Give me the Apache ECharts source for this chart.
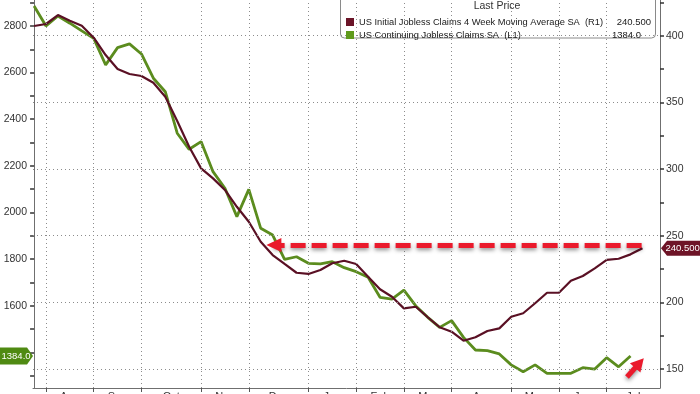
<!DOCTYPE html>
<html><head><meta charset="utf-8">
<script src="https://cdn.jsdelivr.net/npm/echarts@6/dist/echarts.min.js"></script>
<style>html,body{margin:0;padding:0;background:#fff}#c{width:700px;height:394px}</style>
</head><body><div id="c"></div>
<script>
// Weekly dates (week ending)
const weeks = ['2021-07-31','2021-08-07','2021-08-14','2021-08-21','2021-08-28','2021-09-04','2021-09-11','2021-09-18','2021-09-25','2021-10-02','2021-10-09','2021-10-16','2021-10-23','2021-10-30','2021-11-06','2021-11-13','2021-11-20','2021-11-27','2021-12-04','2021-12-11','2021-12-18','2021-12-25','2022-01-01','2022-01-08','2022-01-15','2022-01-22','2022-01-29','2022-02-05','2022-02-12','2022-02-19','2022-02-26','2022-03-05','2022-03-12','2022-03-19','2022-03-26','2022-04-02','2022-04-09','2022-04-16','2022-04-23','2022-04-30','2022-05-07','2022-05-14','2022-05-21','2022-05-28','2022-06-04','2022-06-11','2022-06-18','2022-06-25','2022-07-02','2022-07-09','2022-07-16','2022-07-23'];
// US Initial Jobless Claims 4 Week Moving Average SA (thousands, right axis)
const initialClaims4wk = [407.3,408.8,415.5,411.2,407.5,398.5,385.5,375.0,371.3,369.8,364.7,354.2,336.0,316.7,300.5,293.0,284.3,271.7,260.5,245.5,235.5,228.8,222.2,221.3,224.3,229.3,231.2,228.8,219.2,209.8,204.2,195.5,196.7,188.8,181.3,178.0,171.2,173.8,178.5,180.5,189.2,191.8,199.3,207.2,207.2,216.2,219.8,225.5,231.8,232.7,236.0,240.5];
// US Continuing Jobless Claims SA (thousands, left axis)
const continuingClaims = [2886,2800,2843,2812,2779,2747,2633,2707,2723,2680,2576,2518,2340,2271,2304,2175,2104,1982,2099,1932,1903,1799,1810,1782,1779,1789,1763,1746,1722,1636,1628,1667,1599,1550,1507,1536,1464,1410,1407,1393,1346,1317,1346,1310,1310,1310,1334,1328,1377,1338,1384];
const leftLabels = [1600,1800,2000,2200,2400,2600,2800];
const leftTicks = [1300,1400,1500,1600,1700,1800,1900,2000,2100,2200,2300,2400,2500,2600,2700,2800,2900];
const rightLabels = [150,200,250,300,350,400];
const rightTicks = [150,175,200,225,250,275,300,325,350,375,400,425];
const monthNames = ['Aug','Sep','Oct','Nov','Dec','Jan','Feb','Mar','Apr','May','Jun','Jul'];
const monthStartIdx = [1,5,9,14,18,23,27,31,35,40,44,48];
const lastInitial = '240.500';
const lastContinuing = '1384.0';
const nameInit = 'US Initial Jobless Claims 4 Week Moving Average SA  (R1)';
const nameCont = 'US Continuing Jobless Claims SA  (L1)';

const X_MIN = -0.09, X_MAX = 52.47;
const monthMid = monthStartIdx.map((s, k) => (s + (k < monthStartIdx.length - 1 ? monthStartIdx[k + 1] : X_MAX)) / 2);

const MAROON = '#5a1024';
const GREEN = '#5b8c1e';
const RED = '#ea1a2c';
const FONT = 'Liberation Sans';

const chart = echarts.init(document.getElementById('c'));
const option = {
  animation: false,
  backgroundColor: '#fff',
  grid: { left: 33, right: 40, top: 0, bottom: 6, containLabel: false, outerBoundsMode: 'none' },
  legend: {
    orient: 'vertical', left: 341, top: 11, itemWidth: 8, itemHeight: 8, itemGap: 1,
    icon: 'rect', z: 10, selectedMode: false,
    data: [{ name: nameInit, itemStyle: { color: '#6b1428' } }, { name: nameCont, itemStyle: { color: '#5f9a1c' } }],
    textStyle: {
      fontSize: 9.3, color: '#1a1a1a', fontFamily: FONT, lineHeight: 12,
      rich: { n: { width: 250, fontSize: 9.3, fontFamily: FONT, color: '#1a1a1a' }, v: { width: 42, align: 'right', fontSize: 9.5, fontFamily: FONT, color: '#1a1a1a' }, w: { width: 32, align: 'right', fontSize: 9.5, fontFamily: FONT, color: '#1a1a1a' } }
    },
    formatter: n => n === nameInit ? '{n|' + n + '}{v|' + lastInitial + '}' : '{n|' + n + '}{w|' + lastContinuing + '}'
  },
  xAxis: {
    type: 'value', min: X_MIN, max: X_MAX,
    axisLine: { show: true, onZero: false, lineStyle: { color: '#6f6f6f', width: 1 } },
    axisTick: { show: true, customValues: monthStartIdx, length: 4, lineStyle: { color: '#555' } },
    axisLabel: { customValues: monthMid, margin: 3, fontSize: 11, color: '#333', fontFamily: FONT,
      formatter: v => { const k = monthMid.findIndex(m => Math.abs(m - v) < 1e-6); return k >= 0 ? monthNames[k] : ''; } },
    splitLine: { show: false }
  },
  yAxis: [
    { type: 'value', position: 'left', min: 1246.9, max: 2911.5,
      axisLine: { show: true, lineStyle: { color: '#6f6f6f' } },
      axisTick: { show: true, customValues: leftTicks, length: 4, lineStyle: { color: '#333', width: 1.5 } },
      axisLabel: { customValues: leftLabels, margin: 6, fontSize: 10.5, color: '#333', fontFamily: FONT, formatter: v => String(v) },
      splitLine: { show: false } },
    { type: 'value', position: 'right', min: 135.75, max: 426.8,
      axisLine: { show: true, lineStyle: { color: '#6f6f6f' } },
      axisTick: { show: true, customValues: rightTicks, length: 4, lineStyle: { color: '#333', width: 1.5 } },
      axisLabel: { customValues: rightLabels, margin: 6, fontSize: 10.5, color: '#333', fontFamily: FONT, formatter: v => String(v) },
      splitLine: { show: false } }
  ],
  series: [
    { name: 'grid', type: 'line', yAxisIndex: 1, data: [], z: 1, silent: true,
      markLine: { silent: true, symbol: 'none', animation: false, label: { show: false },
        lineStyle: { color: '#8c8c8c', type: [1, 3], width: 1 },
        emphasis: { disabled: true },
        data: monthStartIdx.map(v => ({ xAxis: v })).concat(rightLabels.map(v => ({ yAxis: v }))) } },
    { name: nameCont, type: 'line', yAxisIndex: 0, symbol: 'none', z: 2,
      lineStyle: { color: GREEN, width: 2.8 }, itemStyle: { color: GREEN },
      data: continuingClaims.map((v, i) => [i, v]) },
    { name: nameInit, type: 'line', yAxisIndex: 1, symbol: 'none', z: 3,
      lineStyle: { color: MAROON, width: 2.2 }, itemStyle: { color: MAROON },
      data: initialClaims4wk.map((v, i) => [i, v]) },
    { name: 'arrows', type: 'line', yAxisIndex: 1, data: [], z: 5, silent: true,
      markLine: { silent: true, animation: false, label: { show: false }, emphasis: { disabled: true },
        data: [
          [{ coord: [50.93, 243.0], symbol: 'none', lineStyle: { color: RED, width: 5, type: [15, 6], shadowBlur: 4, shadowColor: 'rgba(0,0,0,0.45)', shadowOffsetY: 2 } },
           { coord: [20.1, 243.0], symbol: 'triangle', symbolSize: [14, 15] }],
          [{ coord: [49.7, 144.0], symbol: 'none', lineStyle: { color: RED, width: 5, type: 'solid', shadowBlur: 4, shadowColor: 'rgba(0,0,0,0.45)', shadowOffsetY: 2 } },
           { coord: [50.75, 154.5], symbol: 'triangle', symbolSize: [14, 13] }]
        ] } }
  ]
};
chart.setOption(option);

const yR = chart.convertToPixel({ yAxisIndex: 1 }, parseFloat(lastInitial));
const yL = chart.convertToPixel({ yAxisIndex: 0 }, parseFloat(lastContinuing));
chart.setOption({
  graphic: [
    { type: 'rect', z: 3, shape: { x: 340.5, y: -6, width: 315, height: 44, r: 4 }, style: { fill: '#fff', stroke: '#8a8a8a', lineWidth: 1 } },
    { type: 'text', z: 11, x: 497, y: 6, style: { text: 'Last Price', fill: '#333', font: '10.5px ' + FONT, align: 'center', verticalAlign: 'middle' } },
    { type: 'polygon', z: 11, shape: { points: [[661, yR], [667, yR - 7.5], [700, yR - 7.5], [700, yR + 7.5], [667, yR + 7.5]] }, style: { fill: '#6e1427' } },
    { type: 'text', z: 12, x: 665.5, y: yR, style: { text: lastInitial, fill: '#fff', font: '9.5px ' + FONT, align: 'left', verticalAlign: 'middle' } },
    { type: 'polygon', z: 11, shape: { points: [[0, yL - 8.5], [27, yL - 8.5], [33, yL], [27, yL + 8.5], [0, yL + 8.5]] }, style: { fill: '#4f8a12' } },
    { type: 'text', z: 12, x: 1.5, y: yL, style: { text: lastContinuing, fill: '#fff', font: '9.5px ' + FONT, align: 'left', verticalAlign: 'middle' } }
  ]
});
</script></body></html>
